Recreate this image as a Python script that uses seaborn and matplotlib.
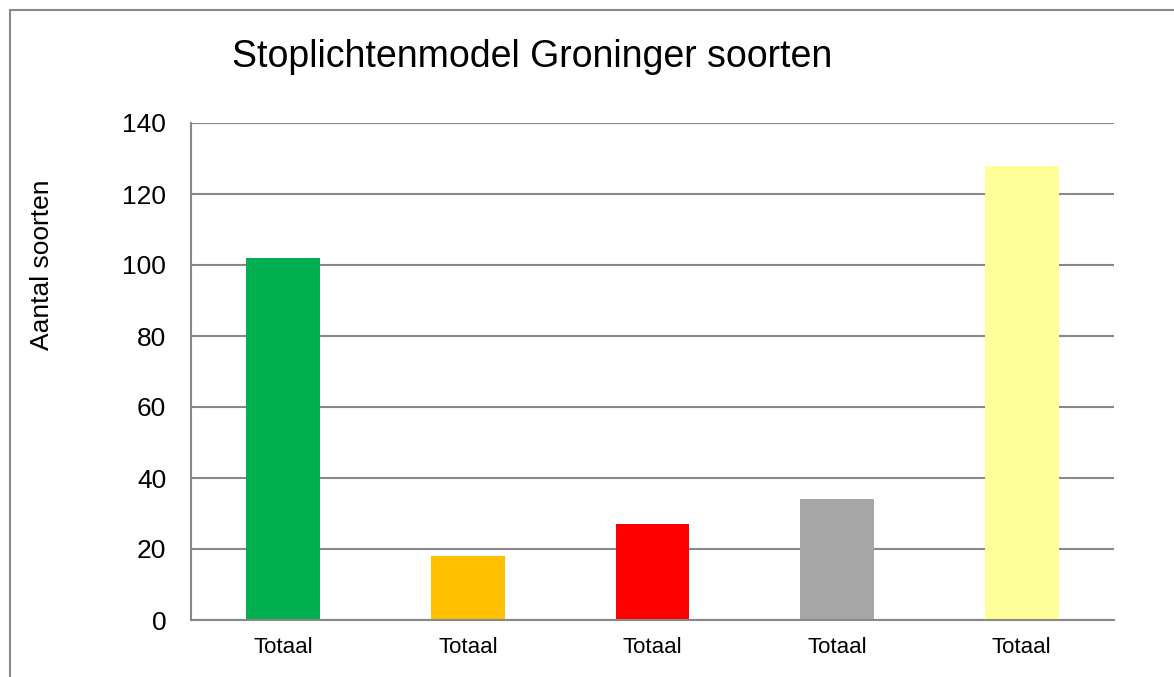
import numpy as np
import pandas as pd
import matplotlib
matplotlib.use('Agg')
import matplotlib.pyplot as plt
import seaborn as sns
from matplotlib.lines import Line2D

# Data
categorieen = ['Groen', 'Oranje', 'Rood', 'Grijs', 'Geel']
aantallen = [102, 18, 27, 34, 128]
tick_labels = ['Totaal', 'Totaal', 'Totaal', 'Totaal', 'Totaal']
kleuren = ['#00B050', '#FFC000', '#FF0000', '#A6A6A6', '#FFFF99']

df = pd.DataFrame({'Categorie': categorieen, 'Aantal': aantallen})

sns.set_style('white')
plt.rcParams['font.family'] = ['Liberation Sans', 'DejaVu Sans']
plt.rcParams['text.color'] = 'black'
plt.rcParams['xtick.color'] = 'black'
plt.rcParams['ytick.color'] = 'black'

W, H = 1174, 677
fig = plt.figure(figsize=(W / 100, H / 100), dpi=100)
ax = fig.add_axes([191 / W, 1 - 620 / H, (1114 - 191) / W, (620 - 123) / H])

sns.barplot(data=df, x='Categorie', y='Aantal', hue='Categorie',
            palette=dict(zip(categorieen, kleuren)), width=0.4,
            saturation=1, legend=False, linewidth=0, edgecolor='none', ax=ax)

grijs = '#888888'
ax.set_xlim(-0.5, len(categorieen) - 0.5)
ax.set_ylim(0, 140)
ax.set_yticks(np.arange(0, 141, 20))
ax.yaxis.grid(True, color=grijs, linewidth=1.5)
ax.set_axisbelow(True)

# x tick marks on category boundaries, labels at centres
ax.set_xticks(np.arange(-0.5, len(categorieen)), minor=False)
ax.set_xticklabels([])
ax.set_xticks(np.arange(len(categorieen)), minor=True)
ax.set_xticklabels(tick_labels, minor=True, fontsize=16)
ax.tick_params(axis='x', which='major', length=4.3, width=1.5, color=grijs, direction='out')
ax.tick_params(axis='x', which='minor', length=0, pad=12, labelcolor='black')
ax.tick_params(axis='y', length=5.8, width=1.5, color=grijs, direction='out',
               labelsize=19, pad=12, labelcolor='black')

for s in ['top', 'right']:
    ax.spines[s].set_visible(False)
for s in ['left', 'bottom']:
    ax.spines[s].set_color(grijs)
    ax.spines[s].set_linewidth(1.5)

ax.set_xlabel('')
ax.set_ylabel('')
fig.text(42 / W, 1 - 265 / H, 'Aantal soorten', rotation=90, fontsize=19,
         ha='center', va='center', color='black')
fig.text(232 / W, 1 - 57 / H, 'Stoplichtenmodel Groninger soorten', fontsize=27,
         ha='left', va='center', color='black')

# outer chart border (top and left visible)
fig.add_artist(Line2D([10 / W, 10 / W], [0, 1 - 10 / H], color=grijs, linewidth=1.5,
                      transform=fig.transFigure))
fig.add_artist(Line2D([10 / W, 1], [1 - 10 / H, 1 - 10 / H], color=grijs, linewidth=1.5,
                      transform=fig.transFigure))

fig.savefig('out.png', dpi=100)
